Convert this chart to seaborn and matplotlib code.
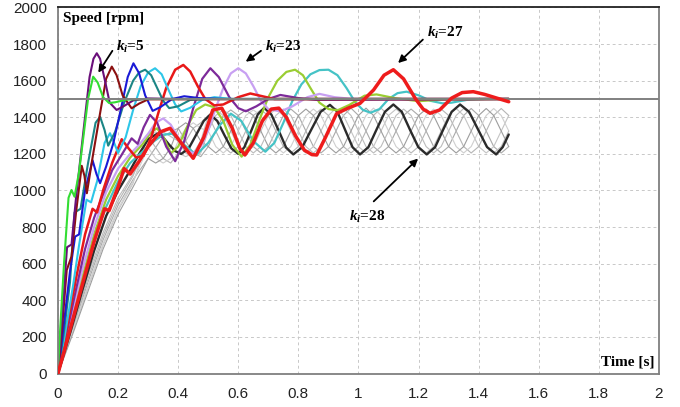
import matplotlib
matplotlib.use("Agg")
import matplotlib.pyplot as plt
import seaborn as sns

# ---- data -------------------------------------------------------------
ref_speed = 1500

green_t = [0, 0.005, 0.02, 0.035, 0.045, 0.055, 0.07, 0.085, 0.1, 0.117, 0.132, 0.15, 0.17, 0.19, 0.23, 0.3, 1.5]
green_v = [0, 180, 600, 960, 1003, 966, 1100, 1300, 1500, 1622, 1590, 1510, 1478, 1482, 1497, 1500, 1500]

purple_t = [0, 0.015, 0.03, 0.045, 0.06, 0.085, 0.105, 0.118, 0.129, 0.14, 0.155, 0.172, 0.195, 0.22, 0.25, 0.3, 0.4, 1.5]
purple_v = [0, 340, 690, 705, 960, 1330, 1620, 1720, 1750, 1720, 1610, 1480, 1440, 1462, 1492, 1503, 1500, 1500]

maroon_t = [0, 0.015, 0.029, 0.045, 0.06, 0.079, 0.088, 0.096, 0.115, 0.14, 0.16, 0.179, 0.195, 0.215, 0.245, 0.27, 0.3, 1.5]
maroon_v = [0, 280, 565, 640, 880, 1135, 1080, 985, 1180, 1422, 1610, 1677, 1630, 1520, 1449, 1475, 1498, 1500]

blue_t = [0, 0.02, 0.04, 0.057, 0.07, 0.09, 0.115, 0.128, 0.14, 0.16, 0.184, 0.21, 0.232, 0.251, 0.27, 0.29,
          0.315, 0.34, 0.38, 0.42, 0.47, 0.55, 1.5]
blue_v = [0, 280, 560, 748, 760, 1000, 1165, 1090, 1040, 1130, 1258, 1450, 1620, 1695, 1640, 1520,
          1435, 1455, 1500, 1515, 1505, 1500, 1500]

teal_t = [0, 0.02, 0.04, 0.055, 0.075, 0.1, 0.125, 0.14, 0.155, 0.167, 0.19, 0.22, 0.25, 0.27, 0.29, 0.31,
          0.33, 0.35, 0.37, 0.4, 0.44, 0.5, 1.5]
teal_v = [0, 230, 500, 880, 900, 1150, 1370, 1403, 1330, 1245, 1320, 1480, 1600, 1645, 1660, 1630,
          1560, 1490, 1450, 1460, 1495, 1500, 1500]

cyan_t = [0, 0.025, 0.05, 0.07, 0.095, 0.11, 0.13, 0.155, 0.173, 0.187, 0.2, 0.225, 0.25, 0.275, 0.3, 0.323,
          0.345, 0.365, 0.39, 0.41, 0.44, 0.48, 0.52, 0.58, 1.5]
cyan_v = [0, 230, 480, 700, 950, 935, 1050, 1260, 1313, 1260, 1205, 1290, 1440, 1570, 1645, 1668,
          1635, 1560, 1470, 1432, 1452, 1495, 1510, 1500, 1500]

red_t = [0, 0.03, 0.06, 0.09, 0.115, 0.13, 0.15, 0.18, 0.212, 0.235, 0.26, 0.285, 0.31, 0.335, 0.36, 0.39,
         0.417, 0.44, 0.465, 0.49, 0.52, 0.55, 0.6, 0.64, 0.68, 0.72, 1.5]
red_v = [0, 260, 520, 760, 900, 880, 1000, 1150, 1280, 1230, 1180, 1190, 1290, 1430, 1560, 1660,
         1686, 1650, 1570, 1500, 1465, 1470, 1510, 1530, 1515, 1500, 1500]

violet_t = [0, 0.03, 0.06, 0.09, 0.12, 0.15, 0.18, 0.21, 0.245, 0.265, 0.285, 0.306, 0.33, 0.36, 0.39, 0.42,
            0.45, 0.48, 0.507, 0.535, 0.57, 0.6, 0.625, 0.66, 0.7, 0.74, 0.8, 0.86, 1.5]
violet_v = [0, 230, 460, 680, 850, 980, 1110, 1190, 1285, 1255, 1345, 1413, 1370, 1240, 1160, 1270,
            1450, 1610, 1668, 1620, 1510, 1450, 1433, 1460, 1500, 1522, 1505, 1495, 1500]

lavender_t = [0, 0.04, 0.08, 0.12, 0.16, 0.2, 0.24, 0.27, 0.3, 0.325, 0.35, 0.375, 0.4, 0.425, 0.45, 0.475,
              0.5, 0.525, 0.55, 0.575, 0.6, 0.625, 0.65, 0.675, 0.7, 0.74, 0.78, 0.83, 0.87, 0.92, 0.98, 1.5]
lavender_v = [0, 280, 560, 800, 990, 1120, 1200, 1250, 1310, 1370, 1394, 1360, 1290, 1225, 1203, 1240,
              1330, 1450, 1560, 1640, 1668, 1640, 1570, 1490, 1445, 1432, 1460, 1510, 1528, 1510, 1500, 1500]

olive_t = [0, 0.04, 0.08, 0.12, 0.16, 0.2, 0.24, 0.28, 0.31, 0.33, 0.355, 0.375, 0.4, 0.43, 0.46, 0.49,
           0.52, 0.55, 0.58, 0.611, 0.64, 0.67, 0.7, 0.73, 0.76, 0.789, 0.815, 0.84, 0.87, 0.9, 0.93, 0.97,
           1.02, 1.06, 1.12, 1.2, 1.28, 1.5]
olive_v = [0, 260, 520, 760, 950, 1080, 1180, 1250, 1320, 1340, 1280, 1203, 1240, 1350, 1440, 1470,
           1455, 1380, 1250, 1185, 1250, 1385, 1510, 1600, 1648, 1660, 1630, 1560, 1480, 1445, 1438, 1468,
           1518, 1525, 1505, 1488, 1497, 1500]

turq_t = [0, 0.04, 0.08, 0.12, 0.16, 0.2, 0.24, 0.28, 0.32, 0.35, 0.38, 0.42, 0.46, 0.5, 0.54, 0.575,
          0.61, 0.65, 0.69, 0.72, 0.75, 0.78, 0.81, 0.84, 0.87, 0.9, 0.93, 0.96, 0.99, 1.015, 1.04, 1.07,
          1.1, 1.13, 1.16, 1.2, 1.24, 1.28, 1.31, 1.36, 1.42, 1.5]
turq_v = [0, 250, 500, 730, 910, 1050, 1150, 1210, 1270, 1305, 1310, 1250, 1195, 1260, 1360, 1420,
          1380, 1270, 1212, 1260, 1370, 1490, 1580, 1635, 1658, 1660, 1630, 1560, 1480, 1440, 1425, 1445,
          1500, 1532, 1540, 1520, 1490, 1476, 1480, 1495, 1500, 1500]

# k_i = 27 (thick red)
ki27_t = [0, 0.04, 0.08, 0.12, 0.155, 0.17, 0.2, 0.22, 0.24, 0.27, 0.3, 0.34, 0.373, 0.41, 0.45, 0.485,
          0.515, 0.545, 0.58, 0.605, 0.622, 0.65, 0.68, 0.71, 0.735, 0.76, 0.79, 0.82, 0.845, 0.861, 0.89,
          0.927, 0.965, 1.005, 1.05, 1.085, 1.116, 1.15, 1.19, 1.215, 1.238, 1.27, 1.31, 1.345, 1.382,
          1.42, 1.46, 1.5]
ki27_v = [0, 240, 480, 720, 900, 890, 1020, 1120, 1090, 1160, 1240, 1320, 1340, 1260, 1176, 1290,
          1440, 1450, 1340, 1230, 1194, 1260, 1380, 1445, 1450, 1400, 1300, 1220, 1196, 1194, 1290,
          1420, 1450, 1476, 1549, 1630, 1660, 1610, 1500, 1445, 1422, 1440, 1505, 1535, 1540,
          1525, 1505, 1485]

# k_i = 28 (black, sustained oscillation)
ki28_t = [0, 0.04, 0.08, 0.12, 0.16, 0.2, 0.24, 0.27, 0.3, 0.33, 0.35, 0.37, 0.39, 0.41, 0.435, 0.46,
          0.485, 0.507, 0.53, 0.553, 0.577, 0.6, 0.62, 0.643, 0.665, 0.686, 0.71, 0.735, 0.759, 0.783,
          0.813, 0.843, 0.874, 0.905, 0.93, 0.955, 0.98, 1.005, 1.033, 1.06, 1.088, 1.116, 1.144, 1.171,
          1.199, 1.227, 1.255, 1.282, 1.31, 1.338, 1.368, 1.398, 1.428, 1.458, 1.48, 1.5]
ki28_v = [0, 220, 450, 670, 860, 1000, 1110, 1200, 1280, 1310, 1290, 1250, 1215, 1200, 1230, 1305,
          1380, 1415, 1380, 1305, 1230, 1200, 1236, 1326, 1416, 1452, 1415, 1325, 1235, 1197,
          1237, 1333, 1430, 1468, 1430, 1333, 1237, 1197, 1237, 1333, 1430, 1470, 1430, 1333,
          1237, 1197, 1237, 1333, 1430, 1470, 1430, 1333, 1237, 1197, 1237, 1306]

# thin grey curves (the other gains), sampled on one shared time grid
grey_t = [0, 0.05, 0.1, 0.15, 0.2, 0.25, 0.3, 0.325, 0.35, 0.375, 0.4, 0.425, 0.45, 0.475, 0.5, 0.525,
          0.55, 0.575, 0.6, 0.625, 0.65, 0.675, 0.7, 0.725, 0.75, 0.775, 0.8, 0.825, 0.85, 0.875, 0.9,
          0.925, 0.95, 0.975, 1.0, 1.025, 1.05, 1.075, 1.1, 1.125, 1.15, 1.175, 1.2, 1.225, 1.25, 1.275,
          1.3, 1.325, 1.35, 1.375, 1.4, 1.425, 1.45, 1.475, 1.5]
grey1_v = [0, 250, 500, 730, 920, 1060, 1175, 1235, 1295, 1320, 1340, 1270, 1205, 1185, 1240, 1325,
           1410, 1440, 1410, 1325, 1240, 1205, 1240, 1325, 1410, 1445, 1410, 1325, 1240, 1205, 1240,
           1325, 1410, 1450, 1410, 1325, 1240, 1205, 1240, 1325, 1410, 1445, 1410, 1325, 1240, 1205,
           1240, 1325, 1410, 1448, 1410, 1325, 1240, 1205, 1240]
grey2_v = [0, 230, 470, 700, 890, 1040, 1295, 1320, 1295, 1235, 1205, 1185, 1205, 1270, 1410, 1440,
           1410, 1325, 1240, 1205, 1240, 1325, 1410, 1445, 1410, 1325, 1240, 1205, 1240, 1325, 1410,
           1450, 1410, 1325, 1240, 1205, 1240, 1325, 1410, 1445, 1410, 1325, 1240, 1205, 1240, 1325,
           1410, 1448, 1410, 1325, 1240, 1205, 1240, 1325, 1410]
grey3_v = [0, 260, 520, 750, 940, 1080, 1295, 1235, 1175, 1150, 1205, 1270, 1340, 1370, 1410, 1325,
           1240, 1205, 1240, 1325, 1410, 1440, 1410, 1325, 1240, 1205, 1240, 1325, 1410, 1445, 1410,
           1325, 1240, 1205, 1240, 1325, 1410, 1450, 1410, 1325, 1240, 1205, 1240, 1325, 1410, 1445,
           1410, 1325, 1240, 1205, 1240, 1325, 1410, 1448, 1410]
grey4_v = [0, 240, 480, 710, 900, 1050, 1235, 1175, 1150, 1175, 1270, 1340, 1370, 1340, 1325, 1240,
           1205, 1240, 1325, 1410, 1440, 1410, 1325, 1240, 1205, 1240, 1325, 1410, 1445, 1410, 1325,
           1240, 1205, 1240, 1325, 1410, 1450, 1410, 1325, 1240, 1205, 1240, 1325, 1410, 1445, 1410,
           1325, 1240, 1205, 1240, 1325, 1410, 1448, 1410, 1325]
grey5_v = [0, 220, 450, 680, 870, 1020, 1175, 1150, 1175, 1235, 1340, 1370, 1340, 1270, 1240, 1205,
           1240, 1325, 1410, 1440, 1410, 1325, 1240, 1205, 1240, 1325, 1410, 1445, 1410, 1325, 1240,
           1205, 1240, 1325, 1410, 1450, 1410, 1325, 1240, 1205, 1240, 1325, 1410, 1445, 1410, 1325,
           1240, 1205, 1240, 1325, 1410, 1448, 1410, 1325, 1240]
grey6_v = [0, 270, 540, 770, 960, 1090, 1235, 1295, 1320, 1295, 1270, 1205, 1185, 1205, 1325, 1410,
           1440, 1410, 1325, 1240, 1205, 1240, 1325, 1410, 1445, 1410, 1325, 1240, 1205, 1240, 1325,
           1410, 1450, 1410, 1325, 1240, 1205, 1240, 1325, 1410, 1445, 1410, 1325, 1240, 1205, 1240,
           1325, 1410, 1448, 1410, 1325, 1240, 1205, 1240, 1325]

x_ticks = [0, 0.2, 0.4, 0.6, 0.8, 1, 1.2, 1.4, 1.6, 1.8, 2]
x_tick_labels = ['0', '0.2', '0.4', '0.6', '0.8', '1', '1.2', '1.4', '1.6', '1.8', '2']
y_ticks = [0, 200, 400, 600, 800, 1000, 1200, 1400, 1600, 1800, 2000]

# ---- style ----------------------------------------------------------------
sns.set_style('white')
plt.rcParams['font.family'] = ['Liberation Sans Narrow', 'Liberation Sans', 'DejaVu Sans']
plt.rcParams['mathtext.fontset'] = 'custom'
plt.rcParams['mathtext.it'] = 'Liberation Serif:italic:bold'
plt.rcParams['mathtext.rm'] = 'Liberation Serif:bold'

fig = plt.figure(figsize=(6.8, 4.07), dpi=100)
ax = fig.add_axes([0.0853, 0.0823, 0.8838, 0.8993])

greys = [(grey1_v, '#a9a9a9'), (grey2_v, '#c4c4c4'), (grey3_v, '#b5b5b5'),
         (grey4_v, '#cfcfcf'), (grey5_v, '#9d9d9d'), (grey6_v, '#bcbcbc')]
for vals, col in greys:
    sns.lineplot(x=grey_t, y=vals, ax=ax, color=col, linewidth=0.8, sort=False, estimator=None)

sns.lineplot(x=ki28_t, y=ki28_v, ax=ax, color='#2b2b2b', linewidth=1.7, sort=False, estimator=None)

curves = [
    (turq_t, turq_v, '#45c3c6', 1.6),
    (olive_t, olive_v, '#9acd32', 1.6),
    (lavender_t, lavender_v, '#c8a0f2', 1.6),
    (violet_t, violet_v, '#7d2a9a', 1.6),
    (red_t, red_v, '#e81818', 1.8),
    (cyan_t, cyan_v, '#2ec6e8', 1.5),
    (teal_t, teal_v, '#1b8585', 1.5),
    (blue_t, blue_v, '#1a1ad6', 1.5),
    (maroon_t, maroon_v, '#8b1010', 1.5),
    (purple_t, purple_v, '#6a0f7a', 1.5),
    (green_t, green_v, '#33dd33', 1.5),
]
for t, v, col, lw in curves:
    sns.lineplot(x=t, y=v, ax=ax, color=col, linewidth=lw, sort=False, estimator=None)

ax.axhline(ref_speed, color='#808080', linewidth=1.4, zorder=2.5)
sns.lineplot(x=ki27_t, y=ki27_v, ax=ax, color='#ee1c1c', linewidth=2.5, sort=False, estimator=None, zorder=3)

# ---- axes ----------------------------------------------------------------
ax.set_xlim(0, 2)
ax.set_ylim(0, 2000)
ax.set_xticks(x_ticks)
ax.set_xticklabels(x_tick_labels)
ax.set_yticks(y_ticks)
ax.set_xlabel('')
ax.set_ylabel('')
ax.grid(True, color='#c8c8c8', linestyle=(0, (3, 3)), linewidth=0.7)
ax.set_axisbelow(True)
ax.tick_params(axis='both', direction='out', colors='#222222', labelsize=11,
               length=4, width=1, pad=4)
ax.tick_params(axis='x', length=5, pad=5)
for side in ['left', 'bottom', 'right']:
    ax.spines[side].set_color('#7f7f7f')
    ax.spines[side].set_linewidth(1.3)
ax.spines['top'].set_color('#222222')
ax.spines['top'].set_linewidth(1.3)

serif = dict(family='Liberation Serif', fontweight='bold', fontsize=11, color='black')
ax.text(0.008, 0.971, 'Speed [rpm]', transform=ax.transAxes, ha='left', va='center', **serif)
ax.text(0.992, 0.031, 'Time [s]', transform=ax.transAxes, ha='right', va='center', **serif)

arrow = dict(arrowstyle='-|>', color='black', lw=1.3, mutation_scale=11)
ax.annotate('', xy=(0.129, 1631), xytext=(0.186, 1776), arrowprops=arrow)
ax.text(0.192, 1786, r'$k_i$=5', ha='left', va='center', **serif)
ax.annotate('', xy=(0.617, 1695), xytext=(0.683, 1772), arrowprops=arrow)
ax.text(0.689, 1786, r'$k_i$=23', ha='left', va='center', **serif)
ax.annotate('', xy=(1.125, 1686), xytext=(1.221, 1835), arrowprops=arrow)
ax.text(1.227, 1859, r'$k_i$=27', ha='left', va='center', **serif)
ax.annotate('', xy=(1.205, 1185), xytext=(1.044, 930), arrowprops=arrow)
ax.text(0.969, 857, r'$k_i$=28', ha='left', va='center', **serif)

fig.savefig('out.png', dpi=100)
